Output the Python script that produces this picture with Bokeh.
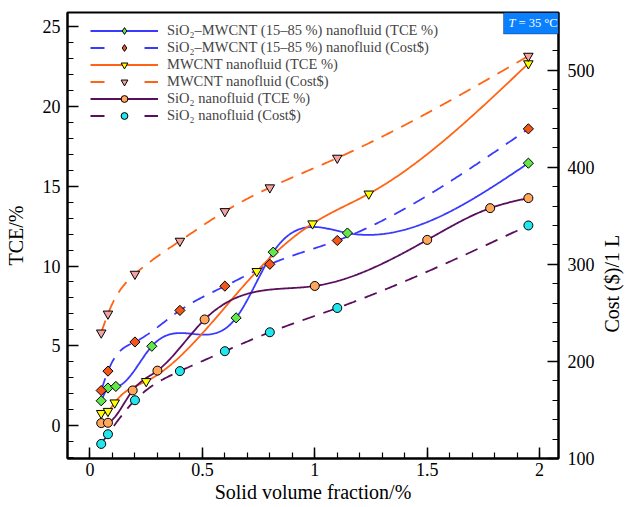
import numpy as np
from bokeh.plotting import figure
from bokeh.models import (Range1d, LinearAxis, FixedTicker, NumeralTickFormatter,
                          Legend, LegendItem, BoxAnnotation, Label)
from bokeh.embed import file_html
from bokeh.resources import INLINE

# ---------------- data ----------------
hyb_tce_x = [0.05, 0.08, 0.115, 0.275, 0.65, 0.815, 1.145, 1.95]
hyb_tce_y = [1.55, 2.35, 2.45, 4.97, 6.75, 10.87, 12.07, 16.45]

hyb_cost_x = [0.05, 0.08, 0.2, 0.4, 0.6, 0.8, 1.1, 1.95]
hyb_cost_y = [170, 190, 220, 252.5, 277.5, 300, 324.5, 439.5]

mw_tce_x = [0.05, 0.08, 0.11, 0.25, 0.742, 0.99, 1.24, 1.95]
mw_tce_y = [0.77, 0.9, 1.43, 2.77, 9.67, 12.66, 14.53, 22.7]

mw_cost_x = [0.05, 0.08, 0.2, 0.4, 0.6, 0.8, 1.1, 1.95]
mw_cost_y = [229.5, 249, 290, 324, 354.5, 379, 409.5, 514.5]

si_tce_x = [0.05, 0.08, 0.19, 0.3, 0.51, 1.0, 1.5, 1.78, 1.95]
si_tce_y = [0.15, 0.17, 2.2, 3.44, 6.65, 8.75, 11.64, 13.63, 14.26]

si_cost_x = [0.05, 0.08, 0.2, 0.4, 0.6, 0.8, 1.1, 1.95]
si_cost_y = [115, 125, 160, 190, 210.5, 230, 255, 340]

labels = [
    "SiO\u2082\u2013MWCNT (15\u201385 %) nanofluid (TCE %)",
    "SiO\u2082\u2013MWCNT (15\u201385 %) nanofluid (Cost$)",
    "MWCNT nanofluid (TCE %)",
    "MWCNT nanofluid (Cost$)",
    "SiO\u2082 nanofluid (TCE %)",
    "SiO\u2082 nanofluid (Cost$)",
]

x_major = [0, 0.5, 1, 1.5, 2]
x_minor = [round(0.1 * i, 1) for i in range(0, 21)]
yl_major = [0, 5, 10, 15, 20, 25]
yl_minor = list(range(-2, 26))
yr_major = [100, 200, 300, 400, 500]
yr_minor = list(range(100, 560, 20))

X0, X1 = -0.1, 2.084
YL0, YL1 = -2.07, 25.9
YR0, YR1 = 100, 559.3

FONT = "Liberation Serif"

W, H = 625, 507
BL, BR, BT, BB = 67, 67, 12, 49
FW, FH = W - BL - BR, H - BT - BB


def nat_spline(x, y, n=400):
    x = np.asarray(x, float)
    y = np.asarray(y, float)
    m = len(x)
    h = np.diff(x)
    A = np.zeros((m, m))
    r = np.zeros(m)
    A[0, 0] = A[-1, -1] = 1.0
    for i in range(1, m - 1):
        A[i, i - 1] = h[i - 1]
        A[i, i] = 2 * (h[i - 1] + h[i])
        A[i, i + 1] = h[i]
        r[i] = 3 * ((y[i + 1] - y[i]) / h[i] - (y[i] - y[i - 1]) / h[i - 1])
    c = np.linalg.solve(A, r)
    b = (y[1:] - y[:-1]) / h - h * (2 * c[:-1] + c[1:]) / 3
    d = (c[1:] - c[:-1]) / (3 * h)
    xs = np.linspace(x[0], x[-1], n)
    idx = np.clip(np.searchsorted(x, xs, side="right") - 1, 0, m - 2)
    t = xs - x[idx]
    ys = y[idx] + b[idx] * t + c[idx] * t ** 2 + d[idx] * t ** 3
    return xs, ys


p = figure(width=W, height=H, output_backend="svg", toolbar_location=None,
           x_range=Range1d(X0, X1), y_range=Range1d(YL0, YL1),
           x_axis_type=None, y_axis_type=None,
           min_border_left=BL, min_border_right=BR, min_border_top=BT, min_border_bottom=BB)
p.extra_y_ranges = {"cost": Range1d(YR0, YR1)}
p.outline_line_color = "black"
p.outline_line_width = 2
p.background_fill_color = "white"
p.border_fill_color = "white"


def style_axis(ax):
    ax.axis_line_color = "black"
    ax.axis_line_width = 2
    ax.major_tick_in = 11
    ax.major_tick_out = 0
    ax.minor_tick_in = 6
    ax.minor_tick_out = 0
    ax.major_tick_line_width = 1.5
    ax.minor_tick_line_width = 1.2
    ax.major_label_text_font = FONT
    ax.major_label_text_font_size = "18px"
    ax.major_label_text_color = "black"
    ax.axis_label_text_font = FONT
    ax.axis_label_text_font_size = "20px"
    ax.axis_label_text_font_style = "normal"
    ax.axis_label_text_color = "black"


xax = LinearAxis(ticker=FixedTicker(ticks=x_major, minor_ticks=x_minor),
                 formatter=NumeralTickFormatter(format="0.[0]"),
                 axis_label="Solid volume fraction/%")
style_axis(xax)
xax.major_label_standoff = 4
xax.axis_label_standoff = 2
p.add_layout(xax, "below")

ylax = LinearAxis(ticker=FixedTicker(ticks=yl_major, minor_ticks=yl_minor),
                  axis_label="TCE/%")
style_axis(ylax)
ylax.major_label_standoff = 7
ylax.axis_label_standoff = 13
p.add_layout(ylax, "left")

yrax = LinearAxis(y_range_name="cost", ticker=FixedTicker(ticks=yr_major, minor_ticks=yr_minor))
style_axis(yrax)
yrax.major_label_standoff = 9
p.add_layout(yrax, "right")

# right axis title, reading bottom-to-top like the left one (placed in the right side panel)
p.add_layout(Label(x=X1, y=280, y_range_name="cost", x_offset=53, text="Cost ($)/1 L",
                   angle=np.pi / 2, text_font=FONT, text_font_size="20px",
                   text_color="black", text_align="center", text_baseline="middle"), "right")

BLUE = "#3a3aff"
ORANGE = "#ff6414"
PURPLE = "#5a0f5e"
DASH = "13 9"

series = [
    (hyb_tce_x, hyb_tce_y, "default", BLUE, "solid", "square", "#62e84a", 7.2, np.pi / 4),
    (hyb_cost_x, hyb_cost_y, "cost", BLUE, DASH, "square", "#f2561a", 7.2, np.pi / 4),
    (mw_tce_x, mw_tce_y, "default", ORANGE, "solid", "inverted_triangle", "#ffff00", 9.5, 0.0),
    (mw_cost_x, mw_cost_y, "cost", ORANGE, DASH, "inverted_triangle", "#f4a2a2", 9.5, 0.0),
    (si_tce_x, si_tce_y, "default", PURPLE, "solid", "circle", "#ffa75c", 9.0, 0.0),
    (si_cost_x, si_cost_y, "cost", PURPLE, DASH, "circle", "#22e6ee", 9.0, 0.0),
]

for xs_, ys_, rng, col, dash, *_ in series:
    sx, sy = nat_spline(xs_, ys_)
    p.line(sx, sy, line_color=col, line_width=1.8, line_dash=dash, y_range_name=rng)

for xs_, ys_, rng, col, dash, mk, fc, sz, ang in series:
    p.scatter(xs_, ys_, marker=mk, size=sz, angle=ang, fill_color=fc,
              line_color="black", line_width=1, y_range_name=rng)

# legend proxies (single point outside the visible range)
items = []
off_x, off_y = [X0 - 10.0], [YL0 - 10.0]
for (xs_, ys_, rng, col, dash, mk, fc, sz, ang), lab in zip(series, labels):
    ld = "solid" if dash == "solid" else "14 40"
    lmk, lsz = (("diamond", 11.5) if mk == "square" else (mk, sz))
    lr = p.line(off_x, off_y, line_color=col, line_width=1.8, line_dash=ld)
    sr = p.scatter(off_x, off_y, marker=lmk, size=lsz, fill_color=fc,
                   line_color="black", line_width=1)
    items.append(LegendItem(label=lab, renderers=[lr, sr]))

legend = Legend(items=items, location=(23, 334), glyph_width=68, glyph_height=17,
                label_height=17, label_standoff=9, spacing=0, padding=0, margin=0,
                label_text_font=FONT, label_text_font_size="14.5px",
                border_line_color=None, background_fill_alpha=0)
p.add_layout(legend)

# T = 35 °C box in the top-right corner
px_x = (X1 - X0) / FW
px_y = (YL1 - YL0) / FH
box_left = X1 - 55 * px_x
box_bottom = YL1 - 21.5 * px_y
p.add_layout(BoxAnnotation(left=box_left, right=X1, bottom=box_bottom, top=YL1,
                           fill_color="#0a80ff", fill_alpha=1.0,
                           line_color="black", line_width=1))
ymid = (box_bottom + YL1) / 2
p.add_layout(Label(x=box_left, y=ymid, x_offset=5, text="T", text_font=FONT,
                   text_font_style="italic", text_font_size="12.5px",
                   text_color="white", text_baseline="middle", text_align="left"))
p.add_layout(Label(x=box_left, y=ymid, x_offset=15, text="= 35 \u00b0C", text_font=FONT,
                   text_font_size="12.5px", text_color="white",
                   text_baseline="middle", text_align="left"))

open("out.html", "w").write(file_html(p, INLINE))
